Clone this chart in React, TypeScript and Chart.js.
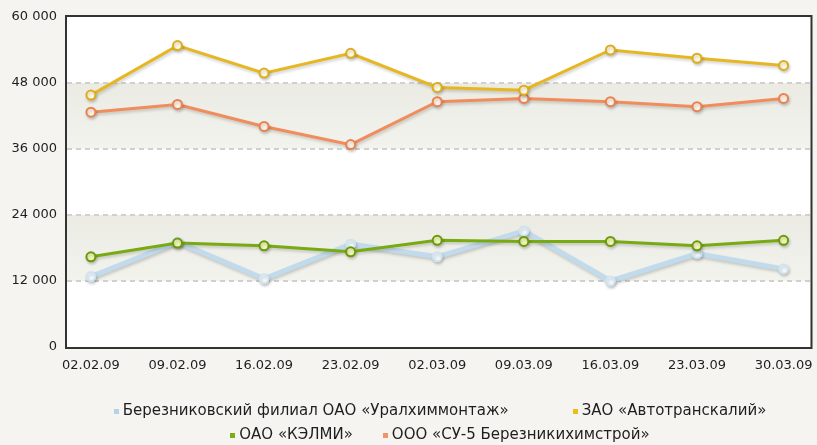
import React, { useEffect, useRef } from "react";
import { Chart, registerables } from "chart.js";

Chart.register(...registerables);

const categories = ["02.02.09", "09.02.09", "16.02.09", "23.02.09", "02.03.09", "09.03.09", "16.03.09", "23.03.09", "30.03.09"];

const seriesNames = [
  "Березниковский филиал ОАО «Уралхиммонтаж»",
  "ЗАО «Автотранскалий»",
  "ОАО «КЭЛМИ»",
  "ООО «СУ-5 Березникихимстрой»",
];

const uralkhimmontazh = [12800, 19100, 12400, 18700, 16400, 21100, 12000, 17000, 14200];
const avtotranskaliy = [45800, 54800, 49800, 53400, 47200, 46700, 54000, 52500, 51200];
const kelmi = [16400, 18900, 18400, 17300, 19400, 19200, 19200, 18400, 19400];
const su5 = [42700, 44100, 40100, 36800, 44600, 45200, 44600, 43700, 45200];

const yTicks = [0, 12000, 24000, 36000, 48000, 60000];

const FONT = "'DejaVu Sans', Verdana, sans-serif";

const styles = [
  { line: "#c2dbec", point: "#f2f9fd", border: "#cfe3f0", width: 5, order: 4 },
  { line: "#e6b723", point: "#fffbe6", border: "#dcae1c", width: 3, order: 2 },
  { line: "#78aa12", point: "#f2f7b8", border: "#6a9a0c", width: 3, order: 1 },
  { line: "#f18c5b", point: "#fff4ea", border: "#ea8250", width: 3, order: 3 },
];
const legendColors = ["#b4d2e8", "#f0bd12", "#7aae14", "#f29466"];

const bandPlugin = {
  id: "bands",
  beforeDraw(chart: any) {
    const { ctx, chartArea: a, scales } = chart;
    const y = scales.y;
    ctx.save();
    ctx.fillStyle = "#ffffff";
    ctx.fillRect(a.left, a.top, a.right - a.left, a.bottom - a.top);
    const bands = [
      [36000, 48000],
      [12000, 24000],
    ];
    for (const [lo, hi] of bands) {
      const yt = y.getPixelForValue(hi);
      const yb = y.getPixelForValue(lo);
      const g = ctx.createLinearGradient(0, yt, 0, yb);
      g.addColorStop(0, "#ebebe4");
      g.addColorStop(1, "#f3f3ee");
      ctx.fillStyle = g;
      ctx.fillRect(a.left, yt, a.right - a.left, yb - yt);
    }
    ctx.restore();
  },
  afterDraw(chart: any) {
    const { ctx, chartArea: a } = chart;
    ctx.save();
    ctx.strokeStyle = "#333333";
    ctx.lineWidth = 2;
    ctx.strokeRect(a.left - 1, a.top - 1, a.right - a.left + 2, a.bottom - a.top + 2);
    ctx.restore();
  },
  beforeDatasetDraw(chart: any) {
    const ctx = chart.ctx;
    ctx.save();
    ctx.shadowColor = "rgba(0,0,0,0.18)";
    ctx.shadowBlur = 3;
    ctx.shadowOffsetX = 1;
    ctx.shadowOffsetY = 2;
  },
  afterDatasetDraw(chart: any) {
    chart.ctx.restore();
  },
};

export default function App() {
  const ref = useRef<HTMLCanvasElement | null>(null);

  useEffect(() => {
    document.body.style.margin = "0";
    document.body.style.background = "#f5f4f0";
    const values = [uralkhimmontazh, avtotranskaliy, kelmi, su5];
    const chart = new Chart(ref.current as HTMLCanvasElement, {
      type: "line",
      data: {
        datasets: values.map((arr, k) => ({
          label: seriesNames[k],
          data: arr.map((v, i) => ({ x: i, y: v })),
          borderColor: styles[k].line,
          borderWidth: styles[k].width,
          pointBackgroundColor: styles[k].point,
          pointBorderColor: styles[k].border,
          pointBorderWidth: 2,
          pointRadius: 4.5,
          tension: 0,
          order: styles[k].order,
          fill: false,
        })),
      },
      options: {
        animation: false,
        responsive: false,
        devicePixelRatio: 1,
        layout: { padding: { top: 17, right: 4, left: 0, bottom: 0 } },
        plugins: { legend: { display: false }, tooltip: { enabled: false } },
        scales: {
          x: {
            type: "linear",
            min: -0.276,
            max: 8.311,
            afterBuildTicks: (s: any) => {
              s.ticks = categories.map((_, i) => ({ value: i }));
            },
            afterFit: (s: any) => {
              s.height = 98;
              s.paddingLeft = 0;
              s.paddingRight = 0;
            },
            grid: { display: false, drawTicks: false },
            border: { display: false },
            ticks: {
              padding: 11,
              autoSkip: false,
              maxRotation: 0,
              color: "#1e1e1e",
              font: { family: FONT, size: 13 },
              callback: (v: any) => categories[v as number] ?? "",
            },
          },
          y: {
            min: 0,
            max: 60000,
            afterBuildTicks: (s: any) => {
              s.ticks = yTicks.map((v) => ({ value: v }));
            },
            afterFit: (s: any) => {
              s.width = 67;
              s.paddingTop = 0;
              s.paddingBottom = 0;
            },
            grid: {
              drawTicks: false,
              lineWidth: 2,
              color: (c: any) =>
                c.tick && (c.tick.value === 0 || c.tick.value === 60000) ? "rgba(0,0,0,0)" : "#d0d0d0",
            },
            border: { display: false, dash: [5, 4] },
            ticks: {
              padding: 10,
              color: "#1e1e1e",
              font: { family: FONT, size: 13 },
              callback: (v: any) => String(v).replace(/\B(?=(\d{3})+(?!\d))/g, " "),
            },
          },
        },
      },
      plugins: [bandPlugin],
    });
    return () => chart.destroy();
  }, []);

  const rows = [
    { items: [0, 1], gap: 64, top: 401 },
    { items: [2, 3], gap: 30, top: 425 },
  ];

  return (
    <div style={{ position: "relative", width: 817, height: 445, background: "#f5f4f0", overflow: "hidden" }}>
      <canvas ref={ref} width={817} height={445} style={{ display: "block" }} />
      {rows.map((r, ri) => (
        <div
          key={ri}
          style={{
            position: "absolute",
            left: 67,
            width: 746,
            top: r.top,
            height: 18,
            display: "flex",
            justifyContent: "center",
            alignItems: "center",
            gap: r.gap,
            fontFamily: FONT,
            fontSize: 15,
            color: "#1e1e1e",
            whiteSpace: "nowrap",
          }}
        >
          {r.items.map((k) => (
            <div key={k} style={{ display: "flex", alignItems: "center" }}>
              <span
                style={{
                  display: "inline-block",
                  width: 5,
                  height: 5,
                  background: legendColors[k],
                  marginRight: 4,
                  marginTop: 3,
                }}
              />
              <span>{seriesNames[k]}</span>
            </div>
          ))}
        </div>
      ))}
    </div>
  );
}
